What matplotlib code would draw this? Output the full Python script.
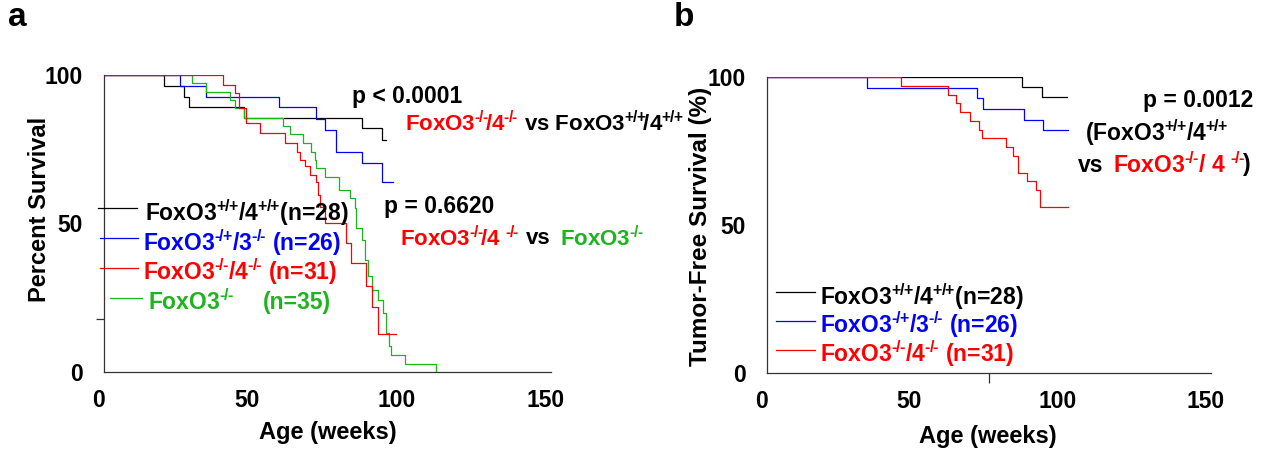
import matplotlib
matplotlib.use('Agg')
import matplotlib.pyplot as plt
from matplotlib.transforms import ScaledTranslation

plt.rcParams['font.family'] = ['Liberation Sans', 'DejaVu Sans']
plt.rcParams['font.weight'] = 'bold'
plt.rcParams['mathtext.fontset'] = 'custom'
plt.rcParams['mathtext.rm'] = 'Liberation Sans:bold'
plt.rcParams['mathtext.it'] = 'Liberation Sans:bold'
plt.rcParams['mathtext.bf'] = 'Liberation Sans:bold'
plt.rcParams['mathtext.default'] = 'rm'

GREEN = '#1fb41f'

# panel a: overall survival (weeks, percent)
a_wt_t = [0, 20.1, 26.8, 28.5, 46.9, 86.7, 93.3, 94.7]
a_wt_s = [100, 96.4, 92.7, 89.1, 85.6, 82.1, 78.1, 78.1]

a_f3_t = [0, 25.5, 34.1, 58.8, 71.1, 74.1, 78.0, 86.7, 93.3, 97.0]
a_f3_s = [100, 96.4, 92.7, 89.1, 85.1, 81.5, 74.2, 70.5, 63.9, 63.9]

a_f4_t = [0, 39.8, 44.1, 45.4, 47.5, 52.5, 60.9, 64.6, 65.7, 67.4, 69.1, 71.3,
          71.8, 72.4, 74.1, 81.3, 83.0, 88.0, 90.0, 92.0, 98.1]
a_f4_s = [100, 96.6, 93.8, 88.8, 83.7, 80.4, 77.0, 74.2, 71.4, 69.2, 66.4, 64.1,
          59.6, 55.7, 50.1, 43.6, 36.7, 28.8, 22.0, 12.9, 12.9]

a_ko_t = [0, 29.4, 34.1, 42.2, 44.1, 47.0, 60.1, 62.3, 66.8, 69.3, 70.7, 71.3,
          74.1, 78.9, 82.5, 84.1, 84.5, 84.7, 86.6, 87.7, 88.6, 90.1, 92.0,
          93.6, 94.7, 95.5, 96.4, 100.9, 111.3]
a_ko_s = [100, 97.2, 94.4, 91.6, 88.8, 85.6, 82.8, 80.2, 77.0, 74.2, 71.4, 68.6,
          65.6, 61.3, 58.5, 55.3, 52.4, 48.4, 44.4, 37.8, 32.2, 27.7, 24.3,
          19.8, 13.1, 8.6, 5.8, 2.8, 0]

# panel b: tumor-free survival
b_wt_t = [0, 86.3, 93.0, 101.5]
b_wt_s = [100, 96.5, 93.1, 93.1]

b_f3_t = [0, 33.8, 70.9, 73.1, 86.9, 93.4, 101.8]
b_f3_s = [100, 96.3, 92.9, 89.2, 85.6, 82.2, 82.2]

b_f4_t = [0, 45.3, 61.0, 64.0, 65.3, 68.5, 71.5, 72.5, 80.7, 83.1, 84.7, 88.0,
          91.0, 92.1, 101.8]
b_f4_s = [100, 97.1, 94.0, 91.2, 88.2, 85.2, 82.2, 79.4, 76.4, 73.2, 67.6, 64.8,
          61.7, 56.0, 56.0]

W, H = 1265, 453
fig = plt.figure(figsize=(W / 100, H / 100), dpi=100)


def px(x, y):
    return x / W, 1 - y / H


def ftext(x, y, s, color='black', size=16.5, ha='left', **kw):
    fig.text(*px(x, y), s, color=color, fontsize=size, fontweight='bold',
             ha=ha, va='center', **kw)


def fline(x0, x1, y, color):
    fig.add_artist(plt.Line2D([x0 / W, x1 / W], [1 - y / H, 1 - y / H],
                              color=color, lw=0.9))


def sup(a, b):
    # slightly tightened superscript like "-/-"
    return (r'$^{\text{' + a + r'}\hspace{-0.06}/\hspace{-0.06}\text{' + b
            + '}}$')


TIGHT = r'$\hspace{-0.15}$'

WT = 'FoxO3' + sup('+', '+') + '/4' + sup('+', '+')
F3 = 'FoxO3' + sup('-', '+') + '/3' + sup('-', '-')
F4 = 'FoxO3' + sup('-', '-') + '/4' + sup('-', '-')
KO = 'FoxO3' + sup('-', '-')
# squeezed versions for the comparison lines
WT_t = 'FoxO3' + sup('+', '+') + TIGHT + '/4' + sup('+', '+')
F4_t = 'FoxO3' + sup('-', '-') + TIGHT + '/4' + sup('-', '-')

axa = fig.add_axes([104 / W, 1 - 372 / H, 447 / W, 297 / H])
axb = fig.add_axes([767 / W, 1 - 373 / H, 444 / W, 296 / H])

axa.step(a_wt_t, a_wt_s, where='post', color='black', lw=0.9)
axa.step(a_f3_t, a_f3_s, where='post', color='blue', lw=0.9)
axa.step(a_ko_t, a_ko_s, where='post', color=GREEN, lw=0.9)
axa.step(a_f4_t, a_f4_s, where='post', color='red', lw=0.9)

axb.step(b_wt_t, b_wt_s, where='post', color='black', lw=0.9)
axb.step(b_f3_t, b_f3_s, where='post', color='blue', lw=0.9)
axb.step(b_f4_t, b_f4_s, where='post', color='red', lw=0.9)

shift = ScaledTranslation(-5.5 / 100, 0, fig.dpi_scale_trans)
for ax in (axa, axb):
    ax.set_xlim(0, 150)
    ax.set_ylim(0, 100)
    for s in ('top', 'right'):
        ax.spines[s].set_visible(False)
    for s in ('left', 'bottom'):
        ax.spines[s].set_linewidth(0.9)
        ax.spines[s].set_color('#333333')
    ax.set_xticks([0, 50, 100, 150])
    ax.set_yticks([0, 50, 100])
    ax.tick_params(which='major', length=0, labelsize=16.5)
    ax.tick_params(axis='x', which='major', pad=12)
    ax.tick_params(axis='y', which='major', pad=15)
    ax.tick_params(which='minor', length=6, width=0.9, color='#333333')
    for lab in ax.get_xticklabels():
        lab.set_fontweight('bold')
        lab.set_transform(lab.get_transform() + shift)
    for lab in ax.get_yticklabels():
        lab.set_fontweight('bold')

axa.set_xticks([100, 150], minor=True)
axa.set_yticks([18, 50, 100], minor=True)
axb.set_xticks([0, 50, 75, 150], minor=True)
axb.set_yticks([0, 50, 100], minor=True)
axb.tick_params(which='minor', length=7)

# axis titles
ftext(328, 432, 'Age (weeks)', size=17, ha='center')
ftext(988, 436, 'Age (weeks)', size=17, ha='center')
ftext(40, 209, 'Percent Survival', size=17, ha='center', rotation=90)
ftext(701, 226, 'Tumor-Free Survival (%)', size=17.5, ha='center', rotation=90)

# panel letters
ftext(8, 18, 'a', size=24)
ftext(674, 18, 'b', size=24)

# legend a
fline(98, 137, 208, 'black')
fline(100, 138, 238, 'blue')
fline(100, 138, 268, 'red')
fline(110, 142, 298, GREEN)
ftext(145, 213, WT + '(n=28)')
ftext(143, 243, F3 + ' (n=26)', color='blue')
ftext(143, 272, F4 + ' (n=31)', color='red')
ftext(148, 302, KO, color=GREEN)
ftext(263, 302, '(n=35)', color=GREEN)

# p-values a
ftext(352, 96, 'p < 0.0001')
ftext(405, 124, F4_t, color='red', size=16)
ftext(524, 124, 'vs ' + WT_t, size=16)
ftext(384, 207, 'p = 0.6620')
ftext(400, 239, 'FoxO3' + sup('-', '-') + TIGHT + '/4 ' + sup('-', '-'),
      color='red', size=16)
ftext(526, 239, 'vs', size=16)
ftext(560, 239, KO, color=GREEN, size=16)

# legend b
fline(776, 815, 292, 'black')
fline(776, 815, 321, 'blue')
fline(776, 815, 350, 'red')
ftext(820, 297, WT + '(n=28)')
ftext(820, 325, F3 + ' (n=26)', color='blue')
ftext(820, 354, F4 + ' (n=31)', color='red')

# p-value b
ftext(1253, 100, 'p = 0.0012', ha='right')
ftext(1085, 133, '(' + WT)
ftext(1078, 165, 'vs')
ftext(1113, 165, 'FoxO3' + sup('-', '-') + '/ 4 ' + sup('-', '-'), color='red')
ftext(1243, 165, ')')

fig.savefig('out.png', dpi=100)
